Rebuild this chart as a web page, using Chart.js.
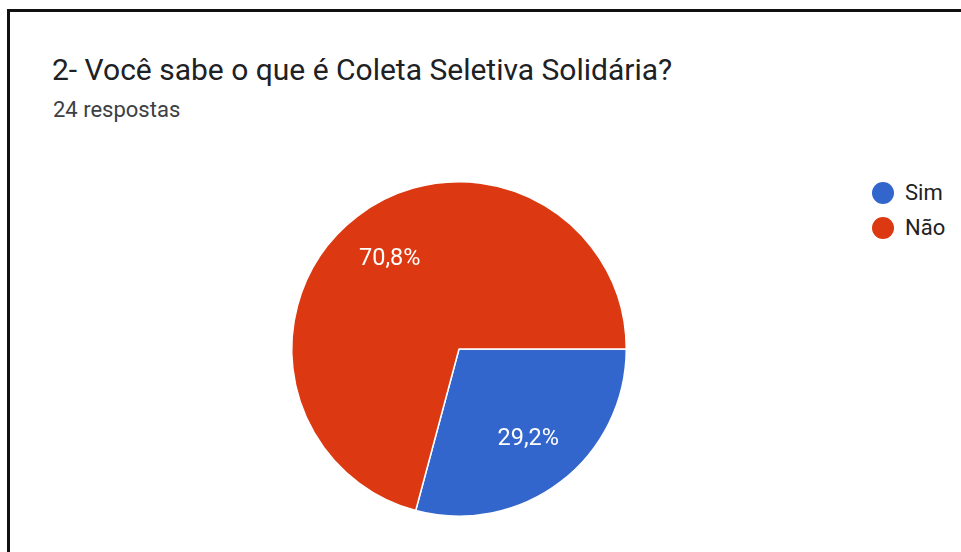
<!DOCTYPE html>
<html>
<head>
<meta charset="utf-8">
<script src="https://cdn.jsdelivr.net/npm/chart.js@4/dist/chart.umd.min.js"></script>
<style>
  html, body { margin: 0; padding: 0; background: #fff; }
  body { width: 961px; height: 552px; position: relative; overflow: hidden; font-family: Roboto, Arial, sans-serif; }
  #frame { position: absolute; left: 7px; top: 9px; right: -5px; bottom: -5px; border-left: 3px solid #111; border-top: 3px solid #111; }
  #title { position: absolute; left: 52px; top: 50px; font-size: 30px; line-height: 40px; color: #202124; white-space: nowrap; }
  #sub { position: absolute; left: 53px; top: 96px; font-size: 22px; line-height: 28px; color: #3c4043; white-space: nowrap; }
  #legend { position: absolute; left: 872px; top: 175px; font-size: 22px; color: #222; }
  .item { height: 35px; display: flex; align-items: center; }
  .dot { width: 22px; height: 22px; border-radius: 50%; margin-right: 11px; }
  #wrap { position: absolute; left: 281px; top: 171px; width: 356px; height: 356px; }
</style>
</head>
<body>
<div id="frame"></div>
<div id="title">2- Você sabe o que é Coleta Seletiva Solidária?</div>
<div id="sub">24 respostas</div>
<div id="legend"></div>
<div id="wrap"><canvas id="pieChart"></canvas></div>
<script>
// Respostas
const labels = ["Sim", "Não"];
const values = [7, 17];          // 24 respostas
const colors = ["#3366cc", "#dc3912"];

// Legenda à direita
const legend = document.getElementById("legend");
labels.forEach((l, i) => {
    const row = document.createElement("div");
    row.className = "item";
    row.innerHTML = '<span class="dot" style="background:' + colors[i] + '"></span>' + l;
    legend.appendChild(row);
});

// Rótulos de porcentagem dentro das fatias
const pctLabels = {
    id: "pctLabels",
    afterDatasetsDraw(chart) {
        const c = chart.ctx;
        const total = values.reduce((a, b) => a + b, 0);
        chart.getDatasetMeta(0).data.forEach((arc, i) => {
            const p = arc.getProps(["x", "y", "startAngle", "endAngle", "outerRadius"], true);
            const mid = (p.startAngle + p.endAngle) / 2;
            const r = p.outerRadius * 0.68;
            const txt = (values[i] / total * 100).toFixed(1).replace(".", ",") + "%";
            c.save();
            c.fillStyle = "#fff";
            c.font = "23.5px Roboto";
            c.textAlign = "center";
            c.textBaseline = "middle";
            c.fillText(txt, p.x + Math.cos(mid) * r, p.y + Math.sin(mid) * r);
            c.restore();
        });
    }
};

const ctx = document.getElementById("pieChart").getContext("2d");
new Chart(ctx, {
    type: "pie",
    data: {
        labels: labels,
        datasets: [{
            data: values,
            backgroundColor: colors,
            borderColor: "#fff",
            borderWidth: 1.5,
            hoverOffset: 0,
        }],
    },
    options: {
        responsive: true,
        maintainAspectRatio: false,
        animation: false,
        rotation: 90,
        layout: { padding: 10 },
        plugins: {
            legend: { display: false },
            tooltip: { enabled: false },
        },
    },
    plugins: [pctLabels],
});
</script>
</body>
</html>
